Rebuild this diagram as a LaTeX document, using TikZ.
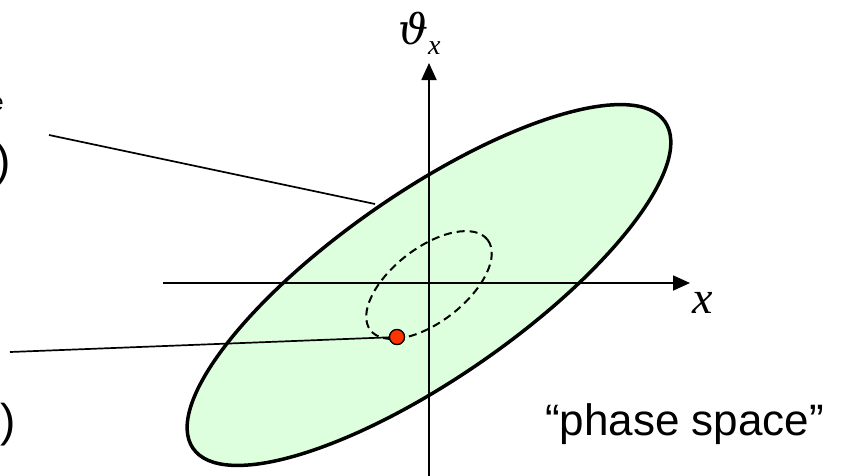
\documentclass[tikz,border=0pt]{standalone}
\usepackage{fontspec}
\setmainfont{Liberation Serif}
\newfontfamily\labelfont{Liberation Sans}
\newfontfamily\thetafont{DejaVu Serif}
\usetikzlibrary{calc, arrows.meta}
\definecolor{phasefill}{HTML}{DDFFDD}
\definecolor{dotred}{HTML}{FF3300}

\begin{document}
\begin{tikzpicture}[
    x=1pt, y=-1pt,
    axis/.style={line width=1.8pt, -{Triangle[length=17pt, width=15pt]}},
    lead/.style={line width=1.7pt},
    beam/.style={draw=black, line width=3.5pt, fill=phasefill},
    orbit/.style={line width=2pt, dash pattern=on 8pt off 5pt},
    particle/.style={circle, draw=black, line width=1.2pt, fill=dotred, minimum size=15pt, inner sep=0pt},
    var/.style={font=\fontsize{46}{46}\selectfont\itshape, inner sep=0pt},
    note/.style={font=\labelfont\fontsize{44}{44}\selectfont, anchor=base west, inner sep=0pt},
    cut/.style={font=\labelfont\fontsize{46}{46}\selectfont, anchor=base east, inner sep=0pt}
  ]
    \useasboundingbox (0,0) rectangle (861,475);
    \coordinate (o) at (429,285);

    % phase space ellipses
    \draw[beam, rotate around={34.7:(o)}] (o) ellipse (287 and 93);
    \draw[orbit, rotate around={37.7:(o)}] (o) ellipse (74 and 37);

    % axes
    \coordinate (xs) at (163,283);
    \coordinate (xe) at (690,283);
    \coordinate (ys) at (429,478);
    \coordinate (ye) at (429,63);
    \draw[axis] (xs) -- (xe);
    \draw[axis] (ys) -- (ye);
    \node[var, anchor=base west] (xl) at (692,313) {x};
    \node[inner sep=0pt, anchor=base west] (tl) at (398,44)
      {{\thetafont\itshape\fontsize{42}{42}\selectfont ϑ}\raisebox{-10pt}{\fontsize{28}{28}\selectfont\itshape x}};

    \node[particle] (dot) at (397,337) {};

    % leaders to the cut-off labels
    \coordinate (rim) at (375,204);
    \coordinate (l1) at (49,135);
    \coordinate (l2) at (10,352);
    \draw[lead] (l1) -- (rim);
    \draw[lead] (l2) -- (dot.center);
    \node[particle] at (dot) {};

    \node[cut, font=\labelfont\fontsize{24}{24}\selectfont] (c1) at (4,110) {e};
    \node[cut] (c2) at (11,176) {)};
    \node[cut] (c3) at (16,436) {r)};

    \node[note] (ps) at (545,435) {“phase space”};
  \end{tikzpicture}
\end{document}
